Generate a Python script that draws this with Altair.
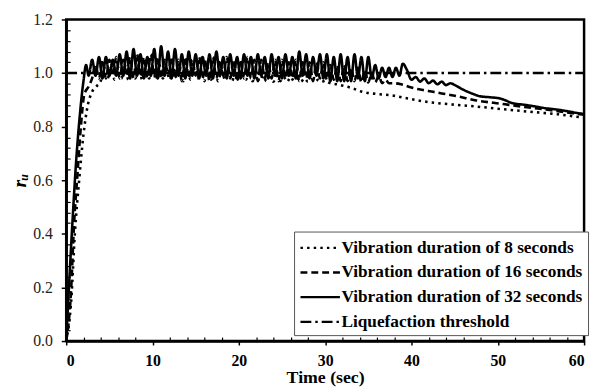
import altair as alt
import pandas as pd

SERIES = ["Vibration duration of 8 seconds", "Vibration duration of 16 seconds",
          "Vibration duration of 32 seconds", "Liquefaction threshold"]

# ---- 32 s (solid) ----
s32_rise_t = [0, 0.35, 0.7, 1.15, 1.6, 2.0, 2.3]
s32_rise_v = [0.0, 0.22, 0.43, 0.67, 0.85, 0.97, 1.03]
s32_osc_start, s32_osc_step = 2.6, 0.4
s32_osc_v = [0.99, 1.05, 0.99, 1.06, 0.98, 1.06, 0.99, 1.05, 0.99, 1.07,
             0.99, 1.08, 0.98, 1.09, 0.99, 1.07, 0.98, 1.06, 0.99, 1.09,
             0.98, 1.10, 0.99, 1.08, 0.98, 1.09, 0.99, 1.07, 0.98, 1.08,
             0.99, 1.07, 0.98, 1.06, 0.99, 1.07, 0.98, 1.08, 0.99, 1.06,
             0.98, 1.07, 0.99, 1.06, 0.98, 1.07, 0.99, 1.06, 0.98, 1.07,
             0.99, 1.06, 0.98, 1.07, 0.99, 1.06, 0.98, 1.07, 0.99, 1.06,
             0.98, 1.08, 0.99, 1.07, 0.98, 1.06, 0.99, 1.07, 0.98, 1.07,
             0.97, 1.06, 0.97, 1.07, 0.97, 1.06, 0.97, 1.07, 0.98, 1.06,
             0.97, 1.06, 0.98, 1.03, 0.98, 1.02, 0.985, 1.02, 0.985, 1.02,
             0.99]
s32_tail_t = [39.0, 39.5, 40.0, 40.5, 41.0, 41.5, 42.0, 42.5, 43.0, 43.5, 44.0, 44.5, 45.2,
              46.0, 47.0, 48.0, 49.0, 50.3, 51.8, 53.0, 54.2, 55.5, 56.8, 58.0, 59.2, 60]
s32_tail_v = [1.035, 1.01, 0.975, 0.985, 0.968, 0.98, 0.962, 0.972, 0.958, 0.968, 0.955, 0.962, 0.952,
              0.938, 0.924, 0.913, 0.91, 0.905, 0.887, 0.882, 0.876, 0.869, 0.864, 0.858, 0.851, 0.847]

# ---- 16 s (dashed) ----
s16_rise_t = [0, 0.55, 0.9, 1.3, 1.7, 2.1, 2.6, 3.0]
s16_rise_v = [0.0, 0.18, 0.43, 0.62, 0.80, 0.92, 0.95, 0.98]
s16_osc_start, s16_osc_step = 3.4, 0.4
s16_osc_v = [1.03, 0.98, 1.05, 0.98, 1.05, 0.99, 1.06, 0.98, 1.05, 0.99,
             1.06, 0.98, 1.07, 0.99, 1.06, 0.98, 1.07, 0.99, 1.06, 0.98,
             1.05, 0.99, 1.06, 0.98, 1.05, 0.97, 1.06, 0.98, 1.05, 0.99,
             1.06, 0.98, 1.05, 0.97, 1.06, 0.98, 1.05, 0.99, 1.06, 0.98,
             1.05, 0.97, 1.05, 0.98, 1.06, 0.98, 1.05, 0.97, 1.05, 0.98,
             1.04, 0.98, 1.05, 0.97, 1.05, 0.98, 1.04, 0.98, 1.05, 0.97,
             1.04, 0.98, 1.04, 0.97, 1.04, 0.98, 1.04, 0.975, 1.03, 0.975,
             1.03, 0.97, 1.03, 0.97, 1.02, 0.97, 1.02, 0.965, 1.01, 0.965,
             1.0, 0.965, 0.99, 0.962, 0.975, 0.962]
s16_tail_t = [38.0, 38.8, 39.6, 40.5, 41.5, 42.5, 43.5, 44.5, 45.5, 46.5, 47.5, 48.5,
              49.5, 50.5, 52, 54, 56, 58, 60]
s16_tail_v = [0.962, 0.958, 0.95, 0.942, 0.936, 0.93, 0.924, 0.918, 0.912, 0.905, 0.898, 0.893,
              0.889, 0.885, 0.878, 0.87, 0.862, 0.853, 0.845]

# ---- 8 s (dotted) ----
s8_rise_t = [0, 0.6, 1.0, 1.5, 2.0, 2.5, 3.0, 3.5, 4.0]
s8_rise_v = [0.0, 0.16, 0.40, 0.60, 0.77, 0.88, 0.93, 0.95, 0.97]
s8_osc_start, s8_osc_step = 4.4, 0.4
s8_osc_v = [1.02, 0.98, 1.03, 0.975, 1.02, 0.98, 1.03, 0.975, 1.02, 0.98,
            1.03, 0.975, 1.02, 0.98, 1.02, 0.975, 1.03, 0.98, 1.02, 0.975,
            1.02, 0.98, 1.02, 0.97, 1.02, 0.975, 1.02, 0.98, 1.01, 0.97,
            1.02, 0.975, 1.01, 0.97, 1.01, 0.975, 1.01, 0.97, 1.0, 0.97,
            1.0, 0.975, 0.995, 0.97, 0.995, 0.97, 0.99, 0.97, 0.985, 0.968,
            0.99, 0.97, 0.985, 0.968, 0.985, 0.97, 0.98, 0.968, 0.98, 0.968,
            0.978, 0.968, 0.975, 0.967, 0.972]
s8_tail_t = [30.3, 31.5, 33.0, 34.3, 36.0, 37.7, 39.6, 41.1, 43.0, 45.0, 47.2, 50.0,
             52.9, 55.0, 57.0, 59.4, 60]
s8_tail_v = [0.966, 0.957, 0.945, 0.93, 0.922, 0.917, 0.905, 0.896, 0.888, 0.882, 0.876, 0.867,
             0.858, 0.852, 0.846, 0.836, 0.834]

thr_t = [0, 60]
thr_v = [1.0, 1.0]

x_major = [0, 10, 20, 30, 40, 50, 60]
x_minor = [2, 4, 6, 8, 12, 14, 16, 18, 22, 24, 26, 28, 32, 34, 36, 38, 42, 44, 46, 48, 52, 54, 56, 58]
y_major = [0.0, 0.2, 0.4, 0.6, 0.8, 1.0, 1.2]
y_minor = [0.04, 0.08, 0.12, 0.16, 0.24, 0.28, 0.32, 0.36, 0.44, 0.48, 0.52, 0.56,
           0.64, 0.68, 0.72, 0.76, 0.84, 0.88, 0.92, 0.96, 1.04, 1.08, 1.12, 1.16]


def build(name, rise_t, rise_v, osc_start, osc_step, osc_v, tail_t, tail_v):
    ts = list(rise_t) + [osc_start + osc_step * i for i in range(len(osc_v))] + list(tail_t)
    vs = list(rise_v) + list(osc_v) + list(tail_v)
    return [{"series": name, "t": a, "v": b, "o": k} for k, (a, b) in enumerate(zip(ts, vs))]


rows = []
rows += build(SERIES[0], s8_rise_t, s8_rise_v, s8_osc_start, s8_osc_step, s8_osc_v, s8_tail_t, s8_tail_v)
rows += build(SERIES[1], s16_rise_t, s16_rise_v, s16_osc_start, s16_osc_step, s16_osc_v, s16_tail_t, s16_tail_v)
rows += build(SERIES[2], s32_rise_t, s32_rise_v, s32_osc_start, s32_osc_step, s32_osc_v, s32_tail_t, s32_tail_v)
rows += [{"series": SERIES[3], "t": a, "v": b, "o": k} for k, (a, b) in enumerate(zip(thr_t, thr_v))]
df = pd.DataFrame(rows)

SERIF = "'Liberation Serif', 'Times New Roman', 'DejaVu Serif', serif"
W, H = 525, 326

xs = alt.Scale(domain=[0, 60], nice=False, zero=False)
ys = alt.Scale(domain=[0, 1.2], nice=False)

lines = alt.Chart(df).mark_line(color="black", strokeWidth=2.6, strokeCap="butt",
                                strokeJoin="round", interpolate="monotone").encode(
    x=alt.X("t:Q", scale=xs, axis=alt.Axis(
        values=x_major, grid=False, domainColor="black", domainWidth=2.5,
        tickColor="black", tickWidth=1.5, tickSize=4, labelFont=SERIF,
        labelFontWeight="bold", labelFontSize=16, labelColor="black", labelPadding=8,
        title="Time (sec)", titleFont=SERIF, titleFontWeight="bold", titleFontSize=18,
        titleColor="black", titleY=42, titleBaseline="alphabetic", zindex=1)),
    y=alt.Y("v:Q", scale=ys, axis=alt.Axis(
        values=y_major, format=".1f", grid=False, domainColor="black", domainWidth=2.5,
        tickColor="black", tickWidth=1.5, tickSize=5, labelFont=SERIF,
        labelFontSize=16, labelColor="#222", labelPadding=9,
        title="rᵤ", titleFont=SERIF, titleFontStyle="italic", titleFontWeight="bold",
        titleFontSize=20, titleColor="black", titlePadding=3, zindex=1)),
    strokeDash=alt.StrokeDash("series:N", sort=SERIES, scale=alt.Scale(
        domain=SERIES, range=[[2.5, 4.2], [7, 4], [1, 0], [11, 4, 2.5, 4]]),
        legend=alt.Legend(
            title=None, orient="none", legendX=231, legendY=215,
            symbolType="M-1,0H3", symbolSize=400, symbolStrokeWidth=2.4,
            symbolStrokeColor="black", labelFont=SERIF, labelFontWeight="bold",
            labelFontSize=17.5, labelColor="black", labelOffset=20, labelLimit=400,
            strokeColor="#555", fillColor="white", padding=5, rowPadding=5)),
    order="o:Q",
)

minor = alt.Chart(df).mark_point(opacity=0).encode(
    x=alt.X("t:Q", scale=xs, axis=alt.Axis(
        orient="top", offset=-H, values=x_minor, labels=False, domain=False,
        tickColor="black", tickWidth=1.2, tickSize=4, title=None, grid=False)),
    y=alt.Y("v:Q", scale=ys, axis=alt.Axis(
        orient="right", offset=-W, values=y_minor, labels=False, domain=False,
        tickColor="black", tickWidth=1.2, tickSize=4, title=None, grid=False)),
)

chart = alt.layer(lines, minor).resolve_axis(x="independent", y="independent").properties(
    width=W, height=H, autosize="none",
    padding={"left": 59, "top": 9, "right": 6, "bottom": 47},
    background="white",
).configure_view(stroke="black", strokeWidth=2.5)

chart.save("out.html", embed_options={"renderer": "svg", "actions": False})
